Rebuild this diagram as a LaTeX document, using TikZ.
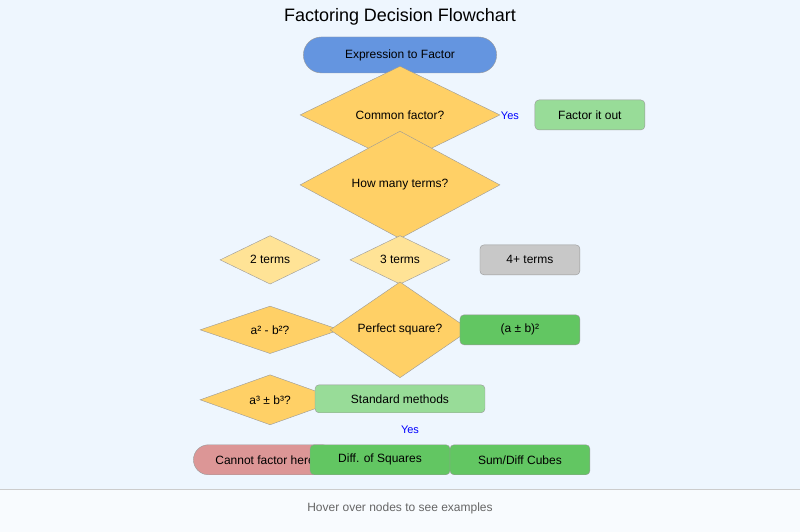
\documentclass[tikz,border=0pt]{standalone}
\usepackage{fontspec}
\setmainfont{Liberation Sans}
\usepackage{xcolor}
\usepackage{tikz}
\usetikzlibrary{shapes.geometric}
\usetikzlibrary{shapes.misc}
\usetikzlibrary{arrows.meta}
\usetikzlibrary{backgrounds}
\definecolor{bgblue}{HTML}{EEF6FE}
\definecolor{startblue}{HTML}{6495E0}
\definecolor{dyellow}{HTML}{FFD066}
\definecolor{lyellow}{HTML}{FFE396}
\definecolor{lgreen}{HTML}{98DC98}
\definecolor{dgreen}{HTML}{62C662}
\definecolor{greybox}{HTML}{C8C8C8}
\definecolor{redbox}{HTML}{DC9696}
\definecolor{edgegrey}{HTML}{555555}
\tikzset{
    pill/.style = {rounded rectangle, draw=black!40, minimum height=36pt, font=\fontsize{12}{14}\selectfont},
    decide/.style = {diamond, draw=black!40, inner sep=0pt, fill=dyellow, font=\fontsize{12}{14}\selectfont},
    box/.style = {rectangle, rounded corners=4pt, draw=black!40, font=\fontsize{12}{14}\selectfont},
    edgen/.style = {-{Stealth[length=7pt,width=6pt]}, edgegrey, line width=1.2pt},
    lab/.style = {text=blue, font=\fontsize{11}{13}\selectfont}
}
\begin{document}
\begin{tikzpicture}[x=1pt, y=-1pt]
\fill[bgblue] (0,0) rectangle (800,532);
\fill[white!60!bgblue] (0,489) rectangle (800,532);
\draw[black!20] (0,489) -- (800,489);
\node[font=\fontsize{18}{21}\selectfont] (title) at (400,17) {Factoring Decision Flowchart};
\node[text=black!60, font=\fontsize{12}{14}\selectfont] (hint) at (400,509) {Hover over nodes to see examples};
% nodes
\node[pill, fill=startblue, minimum width=200pt] (start) at (400,55) {Expression to Factor};
\node[decide, minimum width=200pt, minimum height=36pt] (common) at (400,115) {Common factor?};
\node[box, fill=lgreen, minimum width=110pt, minimum height=30pt] (out) at (590,115) {Factor it out};
\node[decide, minimum width=200pt, minimum height=40pt] (terms) at (400,185) {How many terms?};
\node[decide, fill=lyellow, minimum width=100pt, minimum height=34pt] (two) at (270,260) {2 terms};
\node[decide, fill=lyellow, minimum width=100pt, minimum height=34pt] (three) at (400,260) {3 terms};
\node[box, fill=greybox, minimum width=100pt, minimum height=30pt] (four) at (530,260) {4+ terms};
\node[decide, minimum width=140pt, minimum height=30pt] (diff) at (270,330) {a² - b²?};
\node[decide, minimum width=140pt, minimum height=30pt] (square) at (400,330) {Perfect square?};
\node[box, fill=dgreen, minimum width=120pt, minimum height=30pt] (binom) at (520,330) {(a ± b)²};
\node[decide, minimum width=140pt, minimum height=30pt] (cubes) at (270,400) {a³ ± b³?};
\node[box, fill=lgreen, minimum width=170pt, minimum height=28pt] (std) at (400,399) {Standard methods};
\node[pill, fill=redbox, minimum width=150pt, minimum height=30pt] (none) at (265,460) {Cannot factor here};
\node[box, fill=dgreen, minimum width=140pt, minimum height=30pt] (dsq) at (380,460) {Diff. of Squares};
\node[box, fill=dgreen, minimum width=140pt, minimum height=30pt] (sdc) at (520,460) {Sum/Diff Cubes};
% edges
\begin{scope}[on background layer]
\draw[edgen] (start) -- (common);
\draw[edgen] (common.east) -- (out.north);
\draw[edgen] (common) -- node[lab, right, pos=0.5] {No} (terms);
\draw[edgen] (terms.south) -- (two.north);
\draw[edgen] (terms.south) -- (three.north);
\draw[edgen] (terms.south) -- (four.north);
\draw[edgen] (two) -- (diff);
\draw[edgen] (three) -- (square);
\draw[edgen] (square.east) -- (binom.north);
\draw[edgen] (square) -- node[lab, right] {No} (std);
\draw[edgen] (diff) -- node[lab, right] {No} (cubes);
\draw[edgen] (diff.south) -- (dsq.north);
\draw[edgen] (cubes) -- node[lab, right] {No} (none.north -| cubes);
\draw[edgen] (cubes.south) -- (sdc.north);
\end{scope}
\node[lab] (yes1) at (510,116) {Yes};
\node[lab] (yes2) at (410,430) {Yes};
\end{tikzpicture}
\end{document}
